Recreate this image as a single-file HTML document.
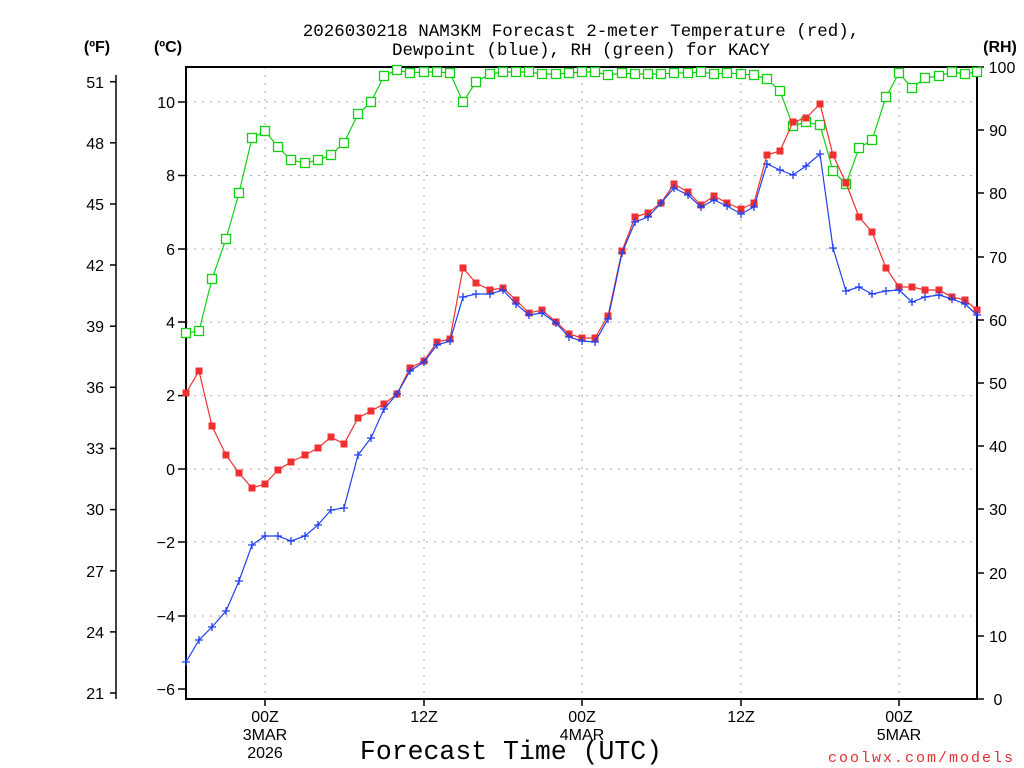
<!DOCTYPE html>
<html><head><meta charset="utf-8"><style>
html,body{margin:0;padding:0;background:#fff;width:1024px;height:768px;overflow:hidden}
text{font-family:"Liberation Sans",sans-serif}
.m{font-family:"Liberation Mono",monospace}
</style></head><body>
<svg width="1024" height="768" xmlns="http://www.w3.org/2000/svg">
<defs>
<marker id="mr" markerUnits="userSpaceOnUse" markerWidth="10" markerHeight="10" refX="5" refY="5"><rect x="1.5" y="1.5" width="7" height="7" fill="#f03030"/></marker>
<marker id="mb" markerUnits="userSpaceOnUse" markerWidth="10" markerHeight="10" refX="5" refY="5"><path d="M1 5H9M5 1V9" stroke="#2040f0" stroke-width="1.3"/></marker>
<marker id="mg" markerUnits="userSpaceOnUse" markerWidth="12" markerHeight="12" refX="6" refY="6"><rect x="1.5" y="1.5" width="9" height="9" fill="#fff" stroke="#10d010" stroke-width="1.3"/></marker>
</defs>
<text class="m" x="581" y="36" font-size="17.5" text-anchor="middle">2026030218 NAM3KM Forecast 2-meter Temperature (red),</text>
<text class="m" x="581" y="55" font-size="17.5" text-anchor="middle">Dewpoint (blue), RH (green) for KACY</text>
<text x="97" y="52" font-size="16" font-weight="bold" text-anchor="middle">(ºF)</text>
<text x="168" y="52" font-size="16" font-weight="bold" text-anchor="middle">(ºC)</text>
<text x="1000" y="52" font-size="16" font-weight="bold" text-anchor="middle">(RH)</text>
<g stroke="#aaa" stroke-dasharray="2,6" stroke-width="1">
<line x1="186" x2="977" y1="102" y2="102"/><line x1="186" x2="977" y1="175.5" y2="175.5"/><line x1="186" x2="977" y1="249" y2="249"/><line x1="186" x2="977" y1="322" y2="322"/><line x1="186" x2="977" y1="395.6" y2="395.6"/><line x1="186" x2="977" y1="469" y2="469"/><line x1="186" x2="977" y1="542" y2="542"/><line x1="186" x2="977" y1="616" y2="616"/>
<line x1="265" x2="265" y1="67" y2="699"/><line x1="424" x2="424" y1="67" y2="699"/><line x1="582" x2="582" y1="67" y2="699"/><line x1="741" x2="741" y1="67" y2="699"/><line x1="899" x2="899" y1="67" y2="699"/>
</g>
<rect x="186" y="67" width="791" height="632" fill="none" stroke="#000" stroke-width="2"/>
<g stroke="#000" stroke-width="1.5">
<line x1="116" y1="75" x2="116" y2="699"/>
<line x1="110" x2="116" y1="81.7" y2="81.7"/><line x1="110" x2="116" y1="142.8" y2="142.8"/><line x1="110" x2="116" y1="204" y2="204"/><line x1="110" x2="116" y1="265" y2="265"/><line x1="110" x2="116" y1="326.2" y2="326.2"/><line x1="110" x2="116" y1="387.3" y2="387.3"/><line x1="110" x2="116" y1="448.5" y2="448.5"/><line x1="110" x2="116" y1="509.6" y2="509.6"/><line x1="110" x2="116" y1="570.8" y2="570.8"/><line x1="110" x2="116" y1="631.9" y2="631.9"/><line x1="110" x2="116" y1="693" y2="693"/>
<line x1="178" x2="186" y1="102" y2="102"/><line x1="178" x2="186" y1="175.5" y2="175.5"/><line x1="178" x2="186" y1="249" y2="249"/><line x1="178" x2="186" y1="322" y2="322"/><line x1="178" x2="186" y1="395.6" y2="395.6"/><line x1="178" x2="186" y1="469" y2="469"/><line x1="178" x2="186" y1="542" y2="542"/><line x1="178" x2="186" y1="616" y2="616"/><line x1="178" x2="186" y1="689" y2="689"/>
<line x1="977" x2="984" y1="67" y2="67"/><line x1="977" x2="984" y1="130" y2="130"/><line x1="977" x2="984" y1="193" y2="193"/><line x1="977" x2="984" y1="257" y2="257"/><line x1="977" x2="984" y1="320" y2="320"/><line x1="977" x2="984" y1="383" y2="383"/><line x1="977" x2="984" y1="446" y2="446"/><line x1="977" x2="984" y1="509" y2="509"/><line x1="977" x2="984" y1="573" y2="573"/><line x1="977" x2="984" y1="636" y2="636"/><line x1="977" x2="984" y1="699" y2="699"/>
<line x1="265" x2="265" y1="699" y2="706"/><line x1="424" x2="424" y1="699" y2="706"/><line x1="582" x2="582" y1="699" y2="706"/><line x1="741" x2="741" y1="699" y2="706"/><line x1="899" x2="899" y1="699" y2="706"/>
</g>
<g font-size="16" text-anchor="end">
<text x="104" y="88">51</text><text x="104" y="149">48</text><text x="104" y="210">45</text><text x="104" y="271">42</text><text x="104" y="332">39</text><text x="104" y="393">36</text><text x="104" y="454">33</text><text x="104" y="515">30</text><text x="104" y="577">27</text><text x="104" y="638">24</text><text x="104" y="699">21</text>
<text x="175" y="108">10</text><text x="175" y="181">8</text><text x="175" y="255">6</text><text x="175" y="328">4</text><text x="175" y="401">2</text><text x="175" y="475">0</text><text x="175" y="548">−2</text><text x="175" y="622">−4</text><text x="175" y="695">−6</text>
</g>
<g font-size="16" text-anchor="middle">
<text x="1002" y="73">100</text><text x="998" y="136">90</text><text x="998" y="199">80</text><text x="998" y="263">70</text><text x="998" y="326">60</text><text x="998" y="389">50</text><text x="998" y="452">40</text><text x="998" y="515">30</text><text x="998" y="579">20</text><text x="998" y="642">10</text><text x="998" y="705">0</text>
<text x="265" y="722">00Z</text><text x="265" y="740">3MAR</text><text x="265" y="758">2026</text>
<text x="424" y="722">12Z</text><text x="582" y="722">00Z</text><text x="582" y="740">4MAR</text><text x="741" y="722">12Z</text><text x="899" y="722">00Z</text><text x="899" y="740">5MAR</text>
</g>
<text class="m" x="511" y="759" font-size="26.5" text-anchor="middle">Forecast Time (UTC)</text>
<text class="m" x="1015" y="762" font-size="15" fill="#e03030" text-anchor="end" letter-spacing="2">coolwx.com/models</text>
<polyline fill="none" stroke="#10d010" stroke-width="1.2" marker-start="url(#mg)" marker-mid="url(#mg)" marker-end="url(#mg)" points="186,333 199,331 212,279 226,239 239,193 252,138 265,131 278,147 291,160 305,163 318,160 331,155 344,143 358,114 371,102 384,76 397,70 410,73 424,72 437,72 450,73 463,102 476,82 490,74 503,72 516,72 529,72 542,74 556,74 569,73 582,72 595,72 608,75 622,73 635,74 648,74 661,74 674,73 688,73 701,72 714,74 727,73 741,74 754,75 767,79 780,91 793,126 806,122 820,125 833,171 846,184 859,148 872,140 886,97 899,73 912,88 925,78 939,76 952,72 965,74 977,72"/>
<polyline fill="none" stroke="#f03030" stroke-width="1.2" marker-start="url(#mr)" marker-mid="url(#mr)" marker-end="url(#mr)" points="186,393 199,371 212,426 226,455 239,473 252,488 265,484 278,470 291,462 305,455 318,448 331,437 344,444 358,418 371,411 384,404 397,394 410,368 424,361 437,342 450,339 463,268 476,283 490,290 503,288 516,300 529,313 542,310 556,322 569,334 582,338 595,338 608,316 622,251 635,217 648,213 661,203 674,184 688,192 701,205 714,196 727,203 741,209 754,203 767,155 780,151 793,122 806,118 820,104 833,155 846,183 859,217 872,232 886,268 899,287 912,287 925,290 939,290 952,297 965,300 977,310"/>
<polyline fill="none" stroke="#2040f0" stroke-width="1.2" marker-start="url(#mb)" marker-mid="url(#mb)" marker-end="url(#mb)" points="186,662 199,640 212,627 226,611 239,581 252,545 265,536 278,536 291,541 305,536 318,525 331,510 344,508 358,455 371,438 384,409 397,394 410,371 424,362 437,345 450,341 463,297 476,294 490,294 503,290 516,304 529,315 542,313 556,323 569,337 582,341 595,342 608,319 622,253 635,222 648,217 661,203 674,188 688,195 701,207 714,200 727,206 741,214 754,207 767,164 780,170 793,175 806,166 820,154 833,248 846,291 859,287 872,294 886,291 899,290 912,302 925,297 939,295 952,299 965,304 977,315"/>
</svg>
</body></html>
